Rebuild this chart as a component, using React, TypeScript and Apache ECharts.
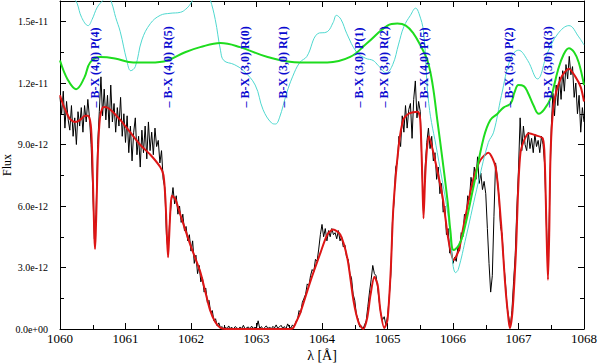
import React, { useEffect, useRef } from "react";
import * as echarts from "echarts";

// Units: flux in 1e-12 erg/s/cm2/A, wavelength in Angstrom
const FLUX_UNIT = 1e-12;

// Observed spectrum (black), sampled from 1060.000 to 1068.000 every 0.025 A
const BLACK_START = 1060;
const BLACK_STEP = 0.025;
const blackFlux = [
  11.3, 10.5, 11.6, 9.8, 11.1, 10.2, 9.7, 10.9, 9.4, 10.3, 9.0, 10.6, 9.9, 10.8, 9.6, 10.9, 10.1, 11.2, 10.3, 9.0,
  6.8, 4.4, 5.6, 9.0, 10.6, 12.3, 10.4, 11.7, 10.2, 11.4, 9.8, 11.9, 10.1, 11.0, 9.6, 10.8, 9.9, 11.3, 9.4, 10.5,
  9.1, 10.4, 8.6, 9.9, 8.2, 9.6, 10.3, 8.5, 9.4, 7.9, 9.7, 8.6, 9.9, 8.3, 10.1, 8.7, 9.6, 8.5, 9.8, 8.9,
  9.2, 8.1, 8.7, 7.3, 6.9, 4.6, 3.8, 5.3, 6.2, 6.9, 6.1, 6.5, 5.6, 6.0, 5.2, 5.6, 4.8, 5.0, 4.3, 4.6,
  3.8, 4.3, 3.2, 3.6, 2.7, 3.1, 2.3, 2.5, 1.8, 2.0, 1.3, 1.4, 0.8, 0.9, 0.4, 0.5, 0.15, 0.3, 0.05, 0.12,
  0.02, 0.1, 0.0, 0.15, 0.03, 0.08, 0.0, 0.12, 0.05, 0.0, 0.1, 0.02, 0.18, 0.0, 0.06, 0.1, 0.0, 0.14, 0.03, 0.08,
  0.05, 0.4, 0.02, 0.12, 0.0, 0.08, 0.15, 0.02, 0.1, 0.0, 0.13, 0.05, 0.2, 0.03, 0.1, 0.18, 0.04, 0.12, 0.0, 0.25,
  0.1, 0.05, 0.2, 0.1, 0.35, 0.45, 0.9, 0.8, 1.3, 1.5, 1.7, 2.2, 2.1, 2.6, 2.9, 2.8, 3.4, 3.3, 3.9, 4.6,
  5.1, 4.5, 4.9, 4.3, 4.8, 4.5, 4.9, 4.6, 4.7, 4.4, 4.8, 4.3, 4.5, 4.0, 4.1, 3.5, 3.4, 2.7, 2.5, 1.7,
  1.4, 0.7, 0.5, 0.1, 0.15, 0.0, 0.2, 0.4, 1.1, 1.8, 2.4, 3.1, 2.7, 2.6, 2.0, 1.3, 0.7, 0.45, 0.6, 0.2,
  0.6, 1.5, 2.6, 5.2, 6.2, 7.9, 8.1, 9.4, 8.9, 10.4, 9.6, 10.9, 9.8, 10.7, 11.0, 9.3, 11.2, 12.1, 10.3, 11.1,
  10.6, 8.0, 5.7, 7.9, 9.1, 9.8, 8.8, 9.4, 8.2, 8.6, 7.3, 7.9, 6.6, 7.1, 5.7, 6.0, 4.6, 4.9, 3.7, 3.9,
  3.2, 3.5, 3.3, 4.0, 3.8, 4.7, 4.5, 5.6, 5.4, 6.5, 6.3, 7.4, 6.9, 7.9, 7.3, 8.4, 7.1, 7.6, 6.8, 7.2,
  6.6, 4.9, 3.2, 1.8, 2.6, 5.5, 8.1, 7.4, 6.5, 5.0, 4.6, 3.2, 2.3, 1.1, 0.6, 0.1, 0.9, 2.3, 3.6, 5.9,
  7.8, 10.3, 8.7, 9.9, 9.0, 8.7, 9.6, 8.8, 9.3, 8.6, 9.5, 8.9, 9.2, 8.6, 9.4, 9.0, 8.0, 5.2, 2.7, 6.2,
  9.8, 11.5, 10.4, 11.9, 10.9, 12.3, 11.2, 12.6, 11.6, 12.9, 12.2, 13.3, 12.4, 12.8, 11.3, 12.0, 10.5, 11.4, 9.6, 10.8,
  10.1,
];

// Model fit (red)
const redLambda = [
  1060.0, 1060.04, 1060.08, 1060.15, 1060.23, 1060.31, 1060.38, 1060.43, 1060.47, 1060.49, 1060.51, 1060.525,
  1060.535, 1060.545, 1060.56, 1060.58, 1060.61, 1060.65, 1060.69, 1060.77, 1060.92, 1061.07, 1061.22, 1061.38,
  1061.53, 1061.58, 1061.61, 1061.635, 1061.65, 1061.665, 1061.69, 1061.71, 1061.76, 1061.84, 1061.99, 1062.14,
  1062.22, 1062.29, 1062.37, 1062.45, 1062.55, 1063.5, 1063.56, 1063.62, 1063.67, 1063.82, 1063.98, 1064.08,
  1064.17, 1064.28, 1064.39, 1064.48, 1064.56, 1064.63, 1064.69, 1064.74, 1064.8, 1064.85, 1064.89, 1064.95,
  1065.0, 1065.05, 1065.09, 1065.17, 1065.24, 1065.32, 1065.46, 1065.5, 1065.53, 1065.55, 1065.575, 1065.6,
  1065.63, 1065.7, 1065.84, 1065.93, 1066.01, 1066.09, 1066.16, 1066.31, 1066.42, 1066.54, 1066.65, 1066.73,
  1066.8, 1066.85, 1066.87, 1066.91, 1066.96, 1067.03, 1067.16, 1067.26, 1067.37, 1067.4, 1067.43, 1067.45,
  1067.47, 1067.49, 1067.54, 1067.65, 1067.77, 1067.87, 1067.95, 1068.0,
];
const redFlux = [
  11.4, 11.0, 10.7, 10.25, 10.1, 10.2, 10.4, 10.4, 9.95, 8.7, 6.3, 4.5,
  3.9, 4.6, 6.3, 8.7, 10.3, 10.8, 10.83, 10.7, 10.2, 9.6, 9.0, 8.5,
  7.9, 7.5, 6.3, 4.35, 3.5, 4.4, 6.05, 6.5, 6.35, 5.55, 4.1, 2.8,
  1.8, 0.93, 0.34, 0.05, 0.0, 0.0, 0.05, 0.44, 0.8, 2.3, 3.75, 4.6,
  4.85, 4.6, 3.4, 1.4, 0.3, 0.0, 0.54, 1.65, 2.55, 2.15, 0.93, 0.05,
  0.44, 2.9, 5.95, 8.9, 10.2, 10.5, 10.6, 10.2, 7.5, 5.4, 7.4, 8.7,
  9.4, 8.6, 6.45, 4.35, 3.37, 3.85, 5.0, 7.3, 8.25, 8.6, 7.9, 5.3,
  2.05, 0.4, 0.05, 0.93, 3.7, 8.6, 9.55, 9.45, 9.3, 8.25, 4.5, 2.4,
  4.8, 8.6, 11.0, 12.25, 12.7, 12.3, 11.8, 11.1,
];

// Green curve
const greenLambda = [
  1060.0, 1060.12, 1060.245, 1060.37, 1060.46, 1060.61, 1060.84, 1061.12, 1061.38, 1061.64, 1061.91, 1062.14,
  1062.45, 1062.75, 1063.17, 1063.67, 1064.08, 1064.43, 1064.69, 1065.0, 1065.15, 1065.28, 1065.4, 1065.5,
  1065.61, 1065.69, 1065.76, 1065.84, 1065.92, 1065.96, 1066.01, 1066.09, 1066.16, 1066.31, 1066.47, 1066.57,
  1066.68, 1066.77, 1066.88, 1066.94, 1067.0, 1067.08, 1067.14, 1067.23, 1067.31, 1067.39, 1067.49, 1067.6,
  1067.69, 1067.77, 1067.85, 1067.92, 1068.0,
];
const greenFlux = [
  13.1, 12.15, 11.7, 12.25, 13.0, 13.27, 13.2, 13.0, 13.0, 13.1, 13.5, 13.75,
  13.95, 13.75, 13.27, 13.0, 13.0, 13.27, 13.95, 14.8, 14.9, 14.8, 14.4, 13.85,
  13.1, 11.9, 10.2, 8.25, 6.15, 4.8, 3.85, 4.1, 4.7, 6.9, 9.35, 10.2,
  10.5, 10.8, 11.0, 11.55, 11.9, 11.85, 11.55, 10.9, 10.5, 10.7, 11.25, 12.6,
  13.4, 13.7, 13.5, 13.0, 11.9,
];

// Cyan curve
const cyanLambda = [
  1060.0, 1060.13, 1060.22, 1060.26, 1060.33, 1060.43, 1060.49, 1060.57, 1060.66, 1060.73, 1060.79, 1060.85,
  1060.92, 1061.02, 1061.08, 1061.15, 1061.25, 1061.38, 1061.53, 1061.68, 1061.84, 1061.92, 1061.99, 1062.05,
  1062.14, 1062.22, 1062.29, 1062.37, 1062.45, 1062.5, 1062.66, 1062.8, 1062.98, 1063.1, 1063.23, 1063.29,
  1063.35, 1063.46, 1063.55, 1063.66, 1063.77, 1063.93, 1064.08, 1064.17, 1064.22, 1064.29, 1064.38, 1064.53,
  1064.67, 1064.78, 1064.86, 1064.98, 1065.08, 1065.17, 1065.25, 1065.35, 1065.43, 1065.48, 1065.55, 1065.63,
  1065.76, 1065.92, 1066.04, 1066.08, 1066.2, 1066.39, 1066.54, 1066.62, 1066.74, 1066.88, 1067.0, 1067.14,
  1067.29, 1067.44, 1067.6, 1067.77, 1067.92, 1068.0,
];
const cyanFlux = [
  17.0, 16.8, 16.1, 15.9, 15.2, 14.8, 15.1, 15.7, 16.05, 16.3, 15.9, 15.2,
  14.5, 13.1, 12.6, 12.8, 14.1, 14.9, 15.3, 15.4, 15.45, 15.6, 15.85, 16.2,
  16.6, 16.6, 16.1, 15.1, 13.6, 13.1, 12.9, 12.6, 11.9, 10.7, 10.05, 10.0,
  10.3, 11.5, 12.3, 13.0, 13.3, 14.4, 14.5, 14.95, 15.3, 15.1, 14.4, 13.5,
  13.2, 13.1, 12.85, 12.5, 12.9, 13.9, 14.75, 15.3, 15.65, 15.4, 14.5, 11.0,
  8.6, 5.65, 2.75, 2.9, 4.5, 7.2, 9.1, 9.6, 11.4, 13.2, 13.6, 13.1,
  12.2, 13.45, 14.4, 14.8, 14.25, 13.85,
];

// Line identifications
const lineLabels = [
  "B-X (4,0) P(4)", "B-X (4,0) R(5)", "B-X (3,0) R(0)", "B-X (3,0) R(1)", "B-X (3,0) P(1)",
  "B-X (3,0) R(2)", "B-X (4,0) P(5)", "B-X (3,0) P(2)", "B-X (3,0) R(3)",
];
const lineLambdas = [1060.535, 1061.65, 1062.83, 1063.41, 1064.56, 1064.95, 1065.55, 1066.85, 1067.45];
const LABEL_BASE = 10.8;

// Axis settings
const X_MIN = 1060, X_MAX = 1068, X_STEP = 1;
const Y_MIN = 0, Y_MAX = 16, Y_STEP = 3;

const SERIF = "'Liberation Serif', 'Times New Roman', Times, serif";

function fmtExp(v: number): string {
  const s = (v * FLUX_UNIT).toExponential(1);
  return s.replace(/e([+-])(\d)$/, "e$10$2");
}

export default function App() {
  const ref = useRef<HTMLDivElement>(null);
  useEffect(() => {
    if (!ref.current) return;
    const chart = echarts.init(ref.current, undefined, { renderer: "svg" });
    const pair = (xs: number[], ys: number[]) => xs.map((x, i) => [x, ys[i]]);
    const blackData = blackFlux.map((f, i) => [BLACK_START + i * BLACK_STEP, f]);
    const tickStyle = { color: "#000", width: 1 };
    const xCommon = {
      type: "value" as const,
      min: X_MIN,
      max: X_MAX,
      interval: X_STEP,
      axisLine: { show: true, onZero: false, lineStyle: tickStyle },
      axisTick: { show: true, inside: true, length: 6, lineStyle: tickStyle },
      minorTick: { show: true, splitNumber: 2, length: 4, lineStyle: tickStyle },
      splitLine: { show: false },
    };
    const yCommon = {
      type: "value" as const,
      min: Y_MIN,
      max: Y_MAX,
      interval: Y_STEP,
      axisLine: { show: true, onZero: false, lineStyle: tickStyle },
      axisTick: { show: true, inside: true, length: 6, lineStyle: tickStyle },
      minorTick: { show: true, splitNumber: 2, length: 4, lineStyle: tickStyle },
      splitLine: { show: false },
    };
    chart.setOption({
      animation: false,
      backgroundColor: "#fff",
      grid: {
        left: 60,
        right: 16,
        top: 1,
        bottom: 35,
        containLabel: false,
        outerBoundsMode: "none",
      },
      xAxis: [
        {
          ...xCommon,
          position: "bottom",
          axisLabel: {
            fontFamily: SERIF,
            fontSize: 13,
            color: "#000",
            margin: 3,
            formatter: (v: number) => String(Math.round(v)),
          },
          name: "λ [Å]",
          nameLocation: "middle",
          nameGap: 19,
          nameMoveOverlap: false,
          nameTextStyle: { fontFamily: SERIF, fontSize: 14, color: "#000" },
        },
        { ...xCommon, position: "top", axisLabel: { show: false } },
      ],
      yAxis: [
        {
          ...yCommon,
          position: "left",
          axisLabel: {
            fontFamily: SERIF,
            fontSize: 10,
            color: "#000",
            margin: 12,
            showMaxLabel: false,
            formatter: (v: number) => fmtExp(v),
          },
          name: "Flux",
          nameLocation: "middle",
          nameGap: 47,
          nameMoveOverlap: false,
          nameRotate: 90,
          nameTextStyle: { fontFamily: SERIF, fontSize: 12, color: "#000" },
        },
        { ...yCommon, position: "right", axisLabel: { show: false } },
      ],
      series: [
        {
          type: "line",
          data: blackData,
          showSymbol: false,
          symbol: "none",
          lineStyle: { color: "#000", width: 1 },
          clip: true,
          z: 2,
        },
        {
          type: "line",
          data: pair(redLambda, redFlux),
          showSymbol: false,
          symbol: "none",
          smooth: 0.25,
          lineStyle: { color: "#dd1515", width: 2 },
          clip: true,
          z: 3,
        },
        {
          type: "line",
          data: pair(cyanLambda, cyanFlux),
          showSymbol: false,
          symbol: "none",
          smooth: 0.4,
          lineStyle: { color: "#4fd8cf", width: 1 },
          clip: true,
          z: 4,
        },
        {
          type: "line",
          data: pair(greenLambda, greenFlux),
          showSymbol: false,
          symbol: "none",
          smooth: 0.4,
          lineStyle: { color: "#1edc1e", width: 2 },
          clip: true,
          z: 5,
        },
      ],
    });
    // line identification labels, anchored at data coordinates via the axes
    const graphics = lineLambdas.map((l, i) => {
      const p = chart.convertToPixel({ xAxisIndex: 0, yAxisIndex: 0 }, [l, LABEL_BASE]) as number[];
      return {
        type: "text",
        x: p[0],
        y: p[1],
        rotation: Math.PI / 2,
        z: 100,
        silent: true,
        style: {
          text: "– " + lineLabels[i],
          fill: "#0a0ad0",
          font: "bold 12px " + SERIF,
          align: "left",
          verticalAlign: "middle",
        },
      };
    });
    chart.setOption({ graphic: graphics });
    return () => chart.dispose();
  }, []);
  return (
    <div
      ref={ref}
      style={{ position: "fixed", left: 0, top: 0, width: 600, height: 364, background: "#fff" }}
    />
  );
}
